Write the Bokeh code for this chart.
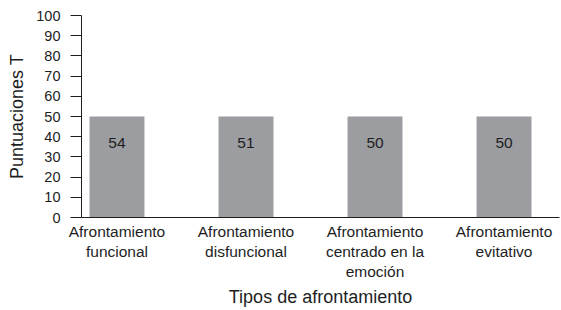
from bokeh.plotting import figure
from bokeh.models import ColumnDataSource, FixedTicker, Range1d
from bokeh.embed import file_html
from bokeh.resources import INLINE
from bokeh.core.properties import value

categories = ["Afrontamiento\nfuncional", "Afrontamiento\ndisfuncional",
              "Afrontamiento\ncentrado en la\nemoción", "Afrontamiento\nevitativo"]
bar_heights = [50, 50, 50, 50]
bar_labels = ["54", "51", "50", "50"]
label_y = [37, 37, 37, 37]
y_ticks = [0, 10, 20, 30, 40, 50, 60, 70, 80, 90, 100]

xs = list(range(len(categories)))
src = ColumnDataSource(dict(x=xs, top=bar_heights, lab=bar_labels, ly=label_y))

FONT = "Liberation Sans"
INK = "#1e1e1e"

p = figure(width=561, height=310, output_backend="svg", toolbar_location=None,
           x_range=Range1d(-0.275, 3.43), y_range=Range1d(0, 100),
           min_border_left=81, min_border_right=2, min_border_top=15, min_border_bottom=92)
p.outline_line_color = None
p.grid.grid_line_color = None
p.background_fill_color = "white"
p.border_fill_color = "white"

p.vbar(x="x", top="top", bottom=0, width=0.426, source=src,
       fill_color="#9c9da1", line_color=None)
p.text(x="x", y="ly", text="lab", source=src, text_align="center",
       text_baseline="middle", text_font=value(FONT), text_font_size="15.5px",
       text_color=INK)

ya = p.yaxis[0]
ya.ticker = FixedTicker(ticks=y_ticks)
ya.axis_label = "Puntuaciones T"
ya.axis_label_text_font = FONT
ya.axis_label_text_font_style = "normal"
ya.axis_label_text_font_size = "18px"
ya.axis_label_text_color = INK
ya.axis_label_standoff = 6
ya.major_label_text_font = FONT
ya.major_label_text_font_size = "14.5px"
ya.major_label_text_color = INK
ya.major_label_standoff = 10
ya.major_tick_out = 11
ya.major_tick_in = 0
ya.minor_tick_line_color = None
ya.axis_line_color = INK
ya.major_tick_line_color = INK

xa = p.xaxis[0]
xa.ticker = FixedTicker(ticks=xs)
xa.major_label_overrides = {i: c for i, c in zip(xs, categories)}
xa.axis_label = "Tipos de afrontamiento"
xa.axis_label_text_font = FONT
xa.axis_label_text_font_style = "normal"
xa.axis_label_text_font_size = "18px"
xa.axis_label_text_color = INK
xa.axis_label_standoff = 4
xa.major_label_text_font = FONT
xa.major_label_text_font_size = "15.5px"
xa.major_label_text_color = INK
xa.major_label_standoff = -1
xa.major_tick_line_color = None
xa.minor_tick_line_color = None
xa.axis_line_color = INK

open("out.html", "w").write(file_html(p, INLINE))
